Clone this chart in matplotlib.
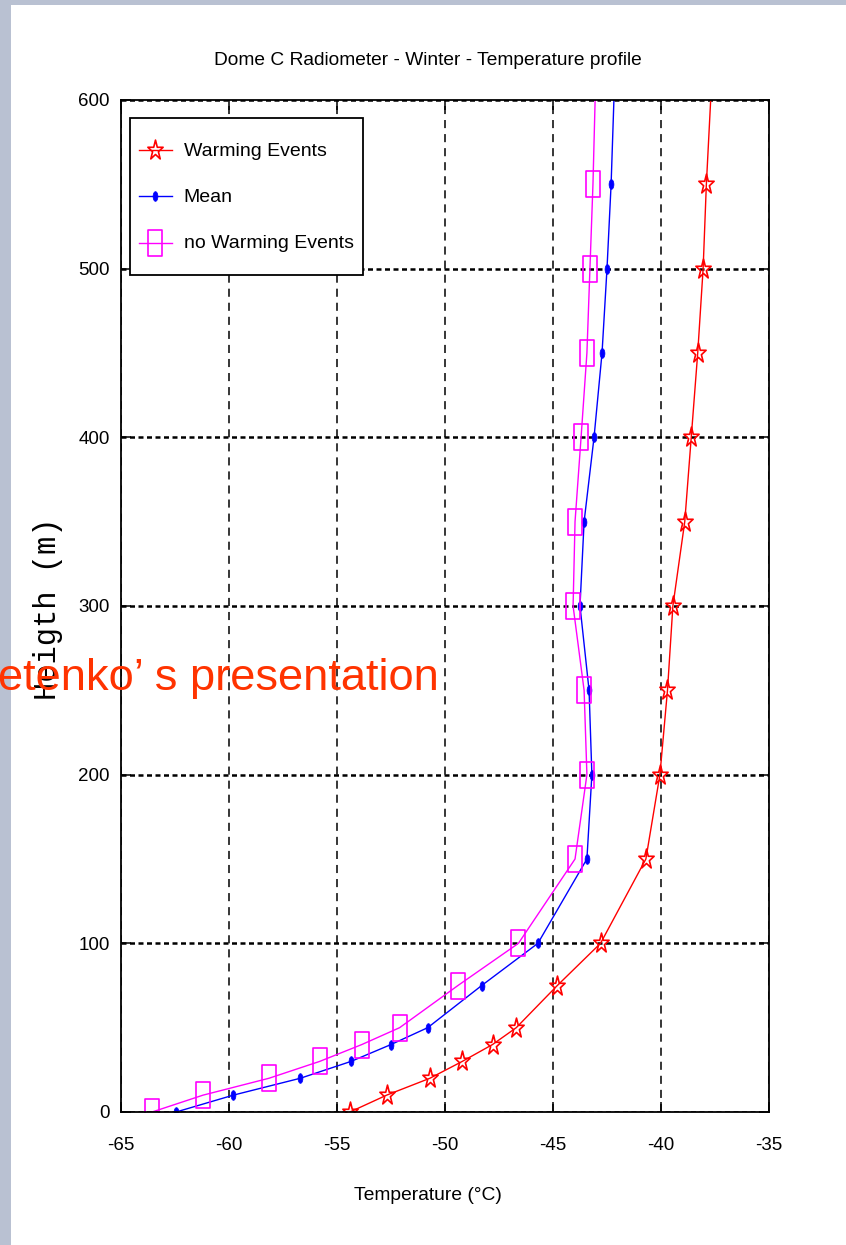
import numpy as np
import matplotlib
matplotlib.use("Agg")
import matplotlib.pyplot as plt
from matplotlib.path import Path
from matplotlib.patches import Rectangle
from matplotlib.lines import Line2D
from matplotlib.legend_handler import HandlerLine2D

# Radiometer levels (m) and temperature profiles (°C)
heights = [0, 10, 20, 30, 40, 50, 75, 100, 150, 200, 250, 300, 350, 400, 450, 500, 550, 600]
warming = [-54.4, -52.7, -50.7, -49.2, -47.8, -46.7, -44.8, -42.8, -40.7, -40.05,
           -39.7, -39.45, -38.9, -38.6, -38.3, -38.05, -37.9, -37.7]
mean = [-62.45, -59.8, -56.7, -54.35, -52.5, -50.8, -48.3, -45.7, -43.43, -43.2,
        -43.33, -43.75, -43.56, -43.1, -42.73, -42.5, -42.31, -42.18]
no_warming = [-63.56, -61.2, -58.15, -55.8, -53.85, -52.1, -49.4, -46.6, -43.98, -43.43,
              -43.56, -44.07, -43.98, -43.7, -43.43, -43.29, -43.15, -43.05]

series_labels = ["Warming Events", "Mean", "no Warming Events"]
xticks = [-65, -60, -55, -50, -45, -40, -35]
yticks = [0, 100, 200, 300, 400, 500, 600]

plt.rcParams["font.family"] = ["Liberation Sans", "DejaVu Sans"]

W, H = 846, 1245
fig = plt.figure(figsize=(W / 100, H / 100), dpi=100, facecolor="#b9c1d2")
# white sheet over the bluish backdrop
fig.patches.append(Rectangle((11 / W, 0), 1 - 11 / W, (H - 5) / H,
                             transform=fig.transFigure, facecolor="white",
                             edgecolor="none", zorder=-5))

ax = fig.add_axes([121 / W, (H - 1112) / H, 648 / W, 1012 / H])
ax.set_facecolor("white")


# tall marker shapes
def star_path(stretch=1.3):
    ang = np.pi / 2 + np.arange(10) * np.pi / 5
    r = np.where(np.arange(10) % 2 == 0, 1.0, 0.382)
    v = np.column_stack([r * np.cos(ang), stretch * r * np.sin(ang)])
    v = np.vstack([v, v[:1]])
    codes = [Path.MOVETO] + [Path.LINETO] * 9 + [Path.CLOSEPOLY]
    return Path(v, codes)


def rect_path(w=0.26, h=0.5):
    v = [(-w, -h), (w, -h), (w, h), (-w, h), (-w, -h)]
    return Path(v, [Path.MOVETO, Path.LINETO, Path.LINETO, Path.LINETO, Path.CLOSEPOLY])


def dot_path():
    t = np.linspace(0, 2 * np.pi, 25)
    v = np.column_stack([0.5 * np.cos(t), np.sin(t)])
    return Path(v, closed=True)


marks = slice(0, len(heights) - 1)

ax.plot(warming, heights, color="red", lw=1.0, marker=star_path(), ms=15,
        mfc="none", mec="red", mew=1.2, markevery=marks, label=series_labels[0])
ax.plot(mean, heights, color="blue", lw=1.0, marker=dot_path(), ms=7,
        mfc="blue", mec="blue", mew=0.5, markevery=marks, label=series_labels[1])
ax.plot(no_warming, heights, color="magenta", lw=1.0, marker=rect_path(), ms=19,
        mfc="none", mec="magenta", mew=1.2, markevery=marks, label=series_labels[2])

ax.set_xlim(-65, -35)
ax.set_ylim(0, 600)
ax.set_xticks(xticks)
ax.set_yticks(yticks)
ax.set_xticklabels([str(t) for t in xticks])
ax.set_yticklabels([str(t) for t in yticks])

ax.grid(True, axis="x", color="black", lw=1.1, linestyle=(0, (5.3, 3.9)))
ax.grid(True, axis="y", color="black", lw=1.8, linestyle=(0, (2.0, 1.4)))
ax.set_axisbelow(True)

for s in ax.spines.values():
    s.set_linewidth(1.3)
    s.set_color("black")
ax.tick_params(direction="in", length=7, width=1.1, top=True, right=True,
               labelsize=13.5, colors="black")
ax.tick_params(axis="x", pad=18)
ax.tick_params(axis="y", pad=8)

cx = (428 - 121) / 648
ax.set_title("Dome C Radiometer - Winter - Temperature profile", fontsize=13.8, pad=25, x=cx)
ax.set_xlabel("Temperature (°C)", fontsize=13.9, va="center")
ax.xaxis.set_label_coords(cx, -(1195 - 1112) / 1012)
ax.set_ylabel("Heigth (m)", fontsize=22, family=["Liberation Mono", "DejaVu Sans Mono"],
              va="center")
ax.yaxis.set_label_coords((48 - 121) / 648, 0.497)

# tall legend rows; keep each handle centred on its row
leg_fs = 14
leg_hh = 3.3
row_shift = 0.35 * leg_fs * (leg_hh - 0.7) / 2


def recenter(legend_handle, orig_handle):
    legend_handle.update_from(orig_handle)
    legend_handle.set_ydata(np.asarray(legend_handle.get_ydata()) - row_shift)


leg = ax.legend(loc="upper left", bbox_to_anchor=((130 - 121) / 648, 1 - (118 - 100) / 1012),
                borderaxespad=0, fontsize=leg_fs, frameon=True, fancybox=False,
                edgecolor="black", framealpha=1, handlelength=1.7, handletextpad=0.62,
                handleheight=leg_hh, labelspacing=0.0, borderpad=0.45, numpoints=1,
                handler_map={Line2D: HandlerLine2D(update_func=recenter)})
leg.get_frame().set_linewidth(1.3)

fig.text(-0.002, (H - 690) / H, "etenko’ s presentation", color="#ff3300",
         fontsize=32.6, family=["Liberation Sans", "DejaVu Sans"], ha="left",
         va="baseline", zorder=10)

fig.savefig("out.png", dpi=100, facecolor=fig.get_facecolor())
